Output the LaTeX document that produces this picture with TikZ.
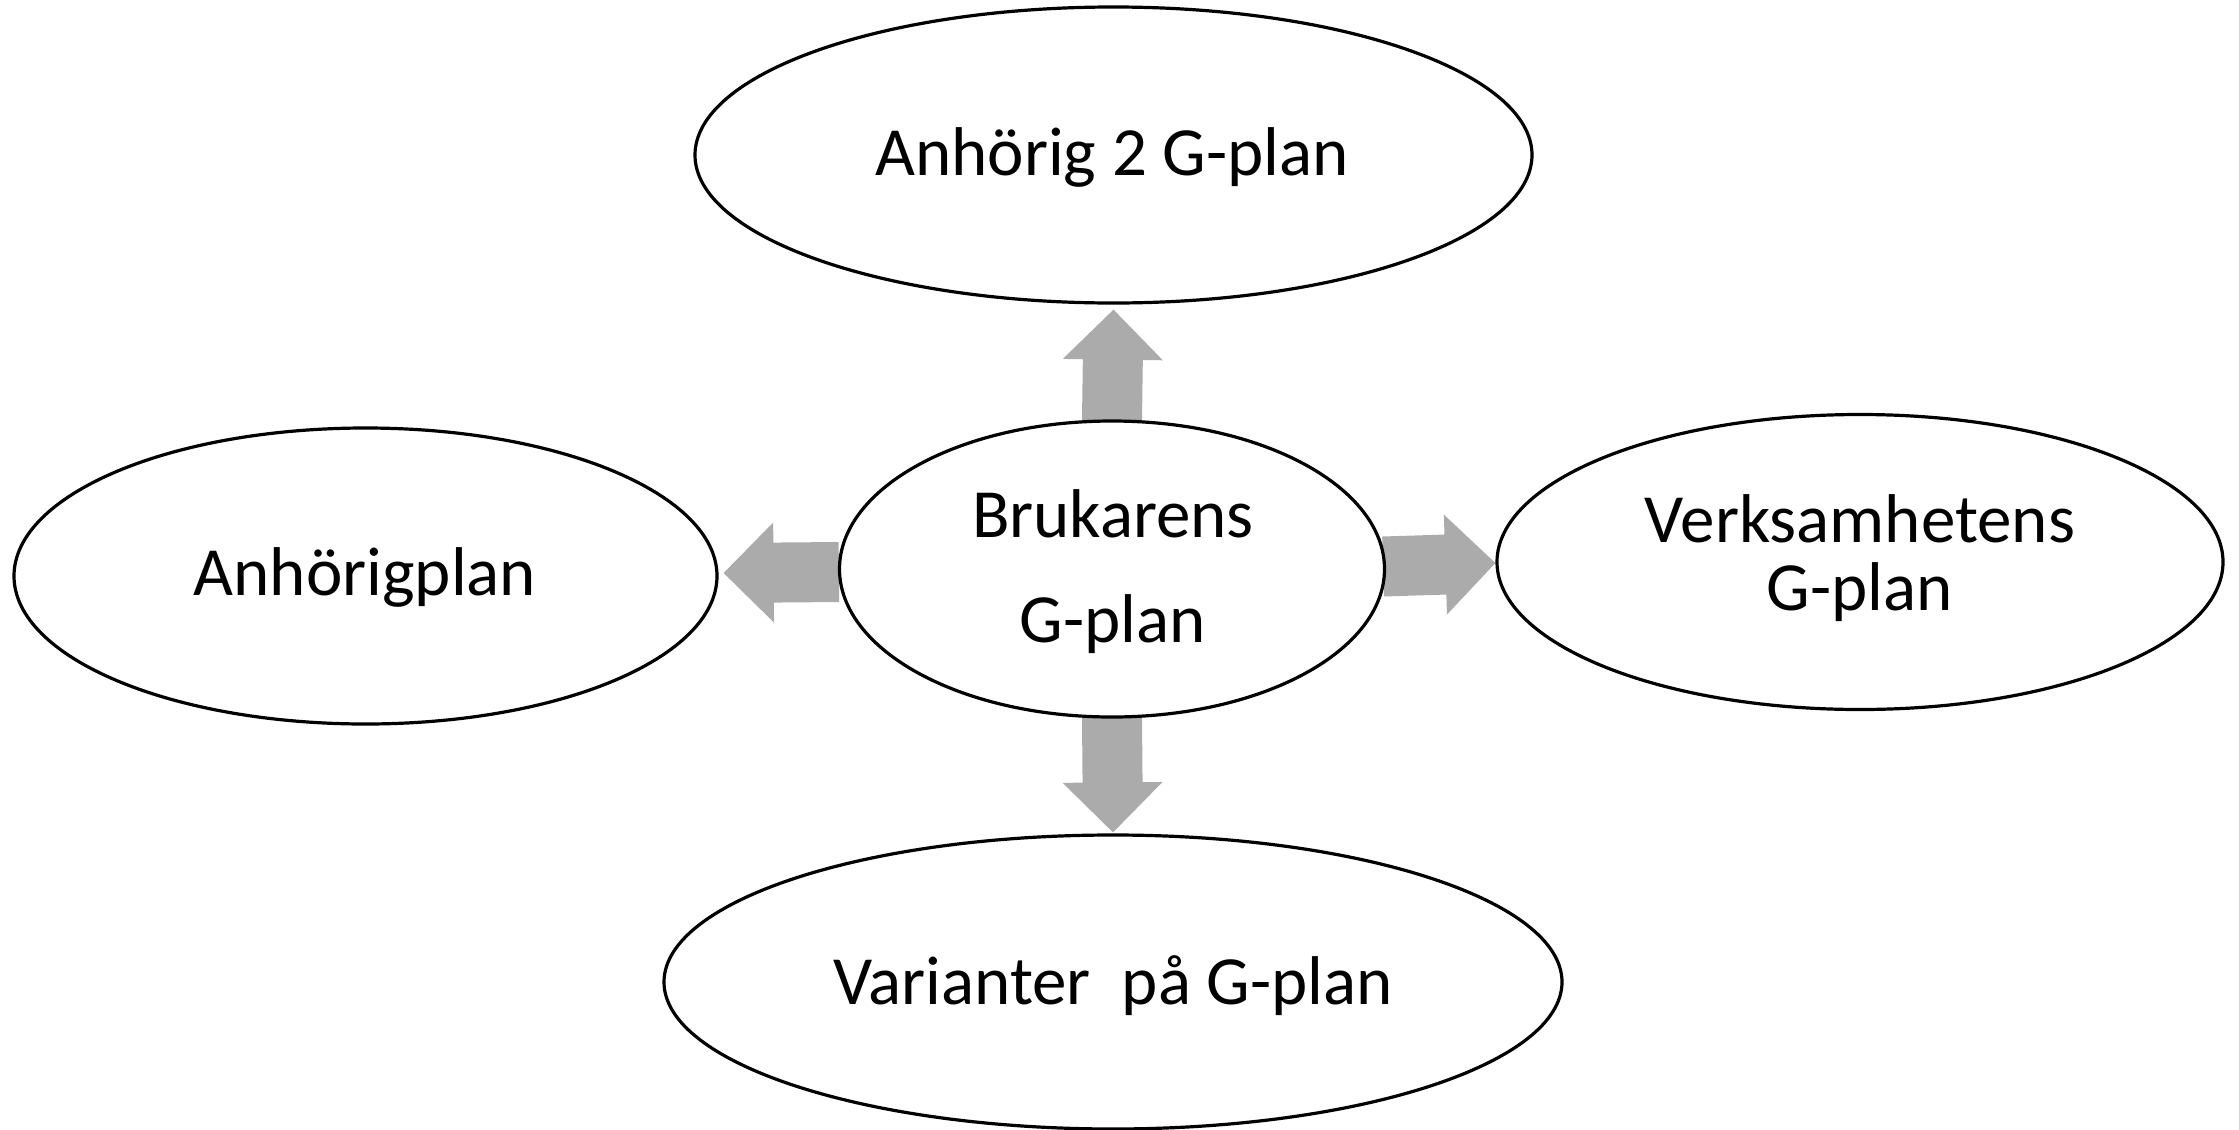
\documentclass[tikz,border=0pt]{standalone}
\usepackage{fontspec}
\setmainfont{Carlito}
\usetikzlibrary{shapes.geometric,calc,backgrounds}
\definecolor{arrowgray}{HTML}{ABABAB}
\tikzset{
  plan/.style={draw=black, line width=3.2pt, ellipse, inner sep=0pt},
  plantext/.style={anchor=base, inner sep=0pt, font=\fontsize{69}{69}\selectfont, align=center},
  blockarrow/.style={fill=arrowgray, draw=none},
}
\newcommand\myblockarrow[2]{%
  \path[blockarrow] let \p1=(#1), \p2=(#2),
    \n1={atan2(\y2-\y1,\x2-\x1)}, \n2={veclen(\x2-\x1,\y2-\y1)} in
    [shift={(\p1)}, rotate=\n1]
    (0,-30) -- ({\n2-50},-30) -- ({\n2-50},-50) -- ({\n2},0) --
    ({\n2-50},50) -- ({\n2-50},30) -- (0,30) -- cycle;}
\begin{document}
\begin{tikzpicture}[x=1pt,y=-1pt]
\useasboundingbox (0,0) rectangle (2239,1130);
% ellipses
\node[plan, minimum width=837pt, minimum height=296pt] (t) at (1113.5,155) {};
\node[plan, minimum width=703pt, minimum height=296pt] (l) at (365.5,576) {};
\node[plan, minimum width=545pt, minimum height=296pt] (c) at (1112,569) {};
\node[plan, minimum width=726pt, minimum height=295pt] (r) at (1860,562) {};
\node[plan, minimum width=898pt, minimum height=294pt] (b) at (1113,982) {};
% texts
\node[plantext] (tt) at (1112,175) {Anhörig 2 G-plan};
\node[plantext] (lt) at (365,595) {Anhörigplan};
\node[plantext, font=\fontsize{69}{105}\selectfont] (ct) at (1113,642) {Brukarens\\G-plan};
\node[plantext, font=\fontsize{69}{68}\selectfont] (rt) at (1860,610) {Verksamhetens\\G-plan};
\node[plantext] (bt) at (1113,1004) {Varianter\ \ på G-plan};
% arrows
\coordinate (upT) at ($(c.north)+(0,1)$);
\coordinate (upH) at ($(t.south)+(0,5)$);
\coordinate (dnT) at ($(c.south)+(0,-1)$);
\coordinate (dnH) at ($(b.north)+(0,-1)$);
\coordinate (lfT) at ($(c.west)+(1,3)$);
\coordinate (lfH) at ($(l.east)+(5,-3)$);
\coordinate (rtT) at ($(c.east)+(-3,-2.5)$);
\coordinate (rtH) at ($(r.west)+(0,1)$);
\begin{scope}[on background layer]
\myblockarrow{upT}{upH}
\myblockarrow{dnT}{dnH}
\myblockarrow{lfT}{lfH}
\myblockarrow{rtT}{rtH}
\end{scope}
\end{tikzpicture}
\end{document}
